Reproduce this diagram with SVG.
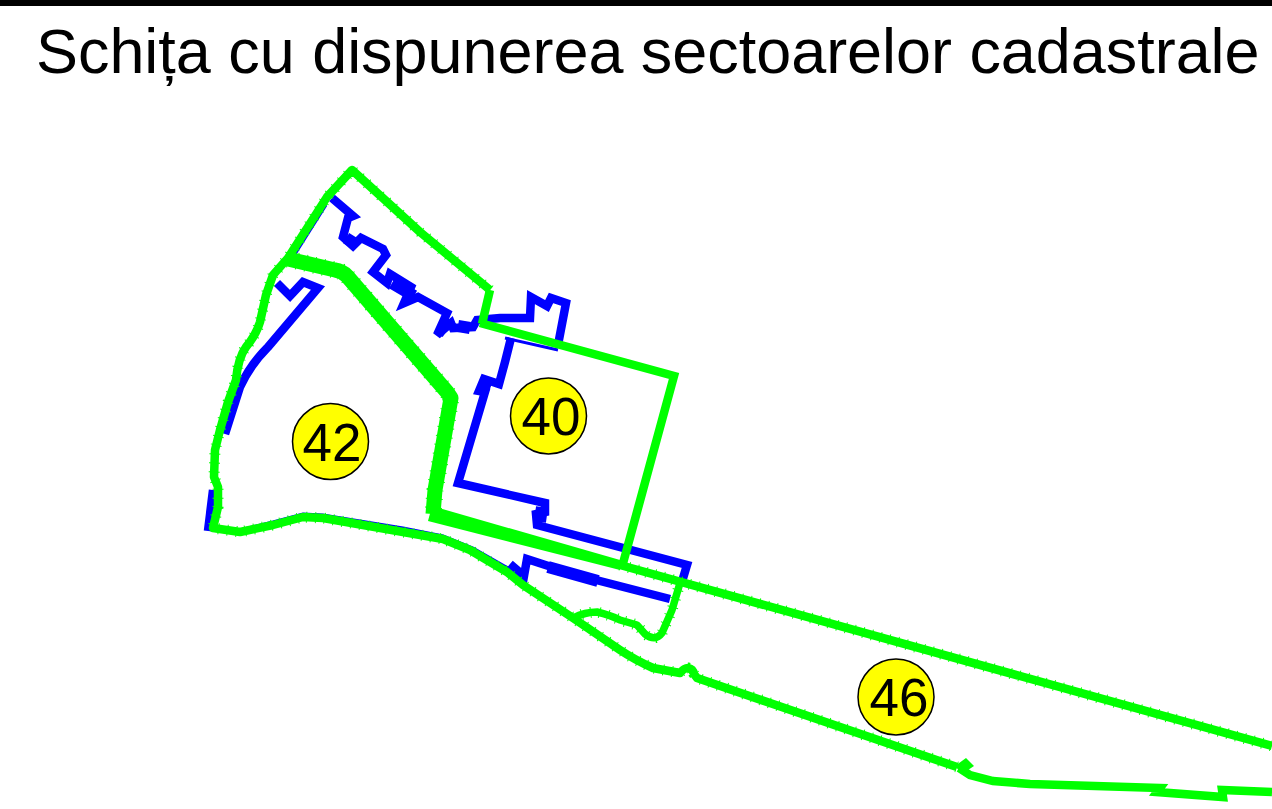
<svg xmlns="http://www.w3.org/2000/svg" width="1272" height="809" viewBox="0 0 1272 809">
<style>
.g{fill:none;stroke:#00ff00;stroke-width:8.500;stroke-linejoin:round;stroke-linecap:butt}
.gm{stroke-linejoin:miter}
.f{fill:none;stroke:#00ff00;stroke-width:11;stroke-dasharray:1 8}
.gt{stroke-width:15}
.b{fill:none;stroke:#0000ff;stroke-width:8.500;stroke-linejoin:miter;stroke-linecap:butt}
.bt{stroke-width:3}
.bb{stroke-width:12}
.c{fill:#ffff00;stroke:#000;stroke-width:1.5}
text{font-family:"Liberation Sans",Arial,sans-serif;fill:#000}
.n{font-size:53px;text-anchor:middle}
</style>
<defs>
<path id="outer" d="M490 290L420 232L385 200L352 170L327 197L288 258L273 275L266 295L262 313L260 322Q256 335 246 347Q238 358 236 380L228 402L220 430L215 450L214 477L218 487L218 507L213 528L240 532L273 525L303 517L323 518L403 532L443 539L470 550L507 572L523 585L573 618L620 650Q635 660 653 668L680 673Q684 668 688 668Q693 669 694 674L697 678L957 767"/>
<path id="branch" d="M573 618Q585 612 597 612Q610 615 620 620L637 625L645 634Q655 642 662 633L672 610L680 583"/>
<path id="upper" d="M288 259L335 270Q342 271 347 276L447 392L451 398L435 490L433 514"/>
</defs>
<rect id="top-bar" x="0" y="0" width="1272" height="6" fill="#000"/>
<text id="title" x="36" y="73" font-size="62.900">Schița cu dispunerea sectoarelor cadastrale</text>
<g id="connectors">
<g id="blue-lines">
<path class="b" d="M332 198L353 216L348 218L343 237L353 246L361 238L383 249L386 255L373 272L387 283L390 274L411 287L404 303L418 297L447 313L437 335L451 323L453 328L473 327L477 320L500 318L530 318L531 297L547 306L551 298L566 303L558 345"/>
<path class="bt b" d="M326 205L290 262M505 338L558 350"/>
<path class="b" d="M511 338L505 362L499 384L484 379L479 391L485 392L458 483L545 503L545 512L536 514L537 525L687 565L681 585"/>
<path class="b bb" d="M487 380L481 395M542 507L540 522M346 238L354 243"/>
<path class="b" d="M277 283L290 296L303 282L318 288L268 347Q250 365 240 387L225 434"/>
<path class="b" d="M213 490L208 531"/>
<path class="bt b" d="M240 530L273 522L303 514L323 515L403 528L443 536L473 548L508 568"/>
<path class="b" d="M510 564L524 576L527 559L573 574L600 581L670 599"/>
<path class="b bb" d="M548 567L598 581M392 283L414 296M440 328L446 332M458 326L470 328"/>
</g>
<g id="green-lines">
<use href="#outer" class="g"/>
<use href="#outer" class="f"/>
<path class="g gm" d="M959 768L970 775L993 781L1030 784L1160 788L1157 792L1223 797L1222 790L1272 792"/>
<path d="M955 766L966 758L974 766L962 774Z" fill="#00ff00"/>
<path class="g gm" d="M490 290L482 324"/>
<path class="g gm" d="M480 323L674 376L622 567"/>
<use href="#upper" class="g gt"/>
<use href="#upper" class="f" style="stroke-width:17"/>
<path d="M432 506L620 560L620 570L428 521Z" fill="#00ff00"/>
<path class="g" d="M620 565L1272 746"/>
<path class="f" d="M620 565L1272 746"/>
<use href="#branch" class="g" style="stroke-width:7.500"/>
<use href="#branch" class="f"/>
</g>
</g>
<g id="node-42"><circle class="c" cx="330.500" cy="441.500" r="38"/><text class="n" x="332" y="461">42</text></g>
<g id="node-40"><circle class="c" cx="548.500" cy="416" r="38"/><text class="n" x="551" y="435">40</text></g>
<g id="node-46"><circle class="c" cx="896" cy="697" r="38"/><text class="n" x="899" y="716">46</text></g>
</svg>
